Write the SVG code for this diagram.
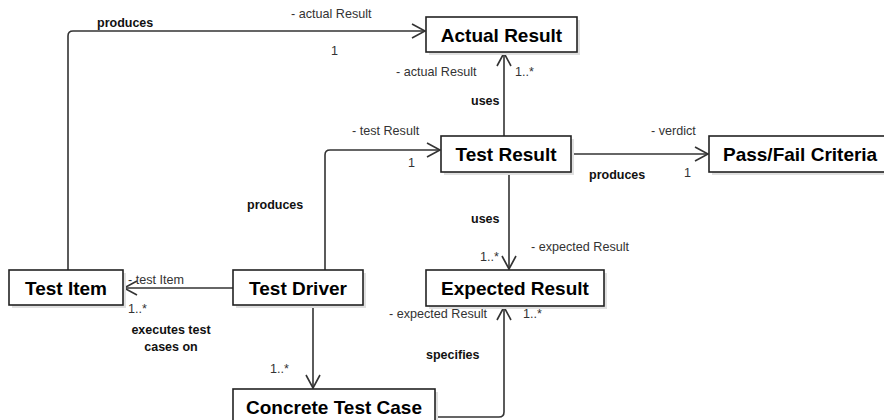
<svg xmlns="http://www.w3.org/2000/svg" width="884" height="420" viewBox="0 0 884 420">
<style>
.box{fill:#fff;stroke:#222;stroke-width:1.6}
.sh{fill:#e0e0e0}
.title{font-family:"Liberation Sans",Arial,sans-serif;font-weight:bold;font-size:19px;fill:#000}
.lbl{font-family:"Liberation Sans",Arial,sans-serif;font-size:12.6px;fill:#333}
.bl{font-family:"Liberation Sans",Arial,sans-serif;font-size:12.5px;font-weight:bold;fill:#111}
.ln{fill:none;stroke:#333;stroke-width:1.6}
</style>
<defs>
<marker id="arr" markerUnits="userSpaceOnUse" markerWidth="16" markerHeight="16" viewBox="0 0 16 16" refX="14" refY="8" orient="auto">
<path d="M1,1 L14,8 L1,15" fill="none" stroke="#333" stroke-width="1.6"/>
</marker>
</defs>
<rect width="884" height="420" fill="#fff"/>
<g id="connectors">
<path class="ln" d="M68,270 V36 Q68,31 73,31 H425" marker-end="url(#arr)"/>
<path class="ln" d="M325,270 V155 Q325,150 330,150 H440" marker-end="url(#arr)"/>
<path class="ln" d="M504,136 V53" marker-end="url(#arr)"/>
<path class="ln" d="M571,154 H708" marker-end="url(#arr)"/>
<path class="ln" d="M509,172 V269" marker-end="url(#arr)"/>
<path class="ln" d="M233,288 H124" marker-end="url(#arr)"/>
<path class="ln" d="M313,305 V388" marker-end="url(#arr)"/>
<path class="ln" d="M435,417 H499 Q504,417 504,412 V307" marker-end="url(#arr)"/>
</g>
<g id="labels">
<text class="bl" x="97" y="27">produces</text>
<text class="lbl" x="291" y="18">- actual Result</text>
<text class="lbl" x="331" y="55">1</text>
<text class="lbl" x="396" y="76">- actual Result</text>
<text class="lbl" x="515" y="76">1..*</text>
<text class="bl" x="471" y="105">uses</text>
<text class="lbl" x="352" y="135">- test Result</text>
<text class="lbl" x="408" y="167">1</text>
<text class="bl" x="247" y="209">produces</text>
<text class="lbl" x="651" y="135">- verdict</text>
<text class="lbl" x="684" y="177">1</text>
<text class="bl" x="589" y="179">produces</text>
<text class="bl" x="471" y="223">uses</text>
<text class="lbl" x="531" y="251">- expected Result</text>
<text class="lbl" x="480" y="261">1..*</text>
<text class="lbl" x="128" y="284">- test Item</text>
<text class="lbl" x="128" y="313">1..*</text>
<text class="bl" x="171" y="334" text-anchor="middle">executes test</text>
<text class="bl" x="171" y="351" text-anchor="middle">cases on</text>
<text class="lbl" x="270" y="373">1..*</text>
<text class="lbl" x="389" y="318">- expected Result</text>
<text class="lbl" x="523" y="318">1..*</text>
<text class="bl" x="426" y="359">specifies</text>
</g>
<g id="actual-result">
<rect class="sh" x="429" y="20" width="151" height="35"/>
<rect class="box" x="426" y="17" width="151" height="35"/>
<text class="title" x="501.5" y="42" text-anchor="middle">Actual Result</text>
</g>
<g id="test-result">
<rect class="sh" x="444" y="139" width="130" height="36"/>
<rect class="box" x="441" y="136" width="130" height="36"/>
<text class="title" x="506" y="161" text-anchor="middle">Test Result</text>
</g>
<g id="pass-fail-criteria">
<rect class="sh" x="712" y="139" width="180" height="36"/>
<rect class="box" x="709" y="136" width="180" height="36"/>
<text class="title" x="723" y="161">Pass/Fail Criteria</text>
</g>
<g id="test-item">
<rect class="sh" x="12" y="273" width="114" height="35"/>
<rect class="box" x="9" y="270" width="114" height="35"/>
<text class="title" x="66" y="295" text-anchor="middle">Test Item</text>
</g>
<g id="test-driver">
<rect class="sh" x="236" y="273" width="130" height="35"/>
<rect class="box" x="233" y="270" width="130" height="35"/>
<text class="title" x="298" y="295" text-anchor="middle">Test Driver</text>
</g>
<g id="expected-result">
<rect class="sh" x="429" y="273" width="178" height="36"/>
<rect class="box" x="426" y="270" width="178" height="36"/>
<text class="title" x="515" y="295" text-anchor="middle">Expected Result</text>
</g>
<g id="concrete-test-case">
<rect class="sh" x="236" y="392" width="202" height="40"/>
<rect class="box" x="233" y="389" width="202" height="40"/>
<text class="title" x="334" y="414" text-anchor="middle">Concrete Test Case</text>
</g>
</svg>
